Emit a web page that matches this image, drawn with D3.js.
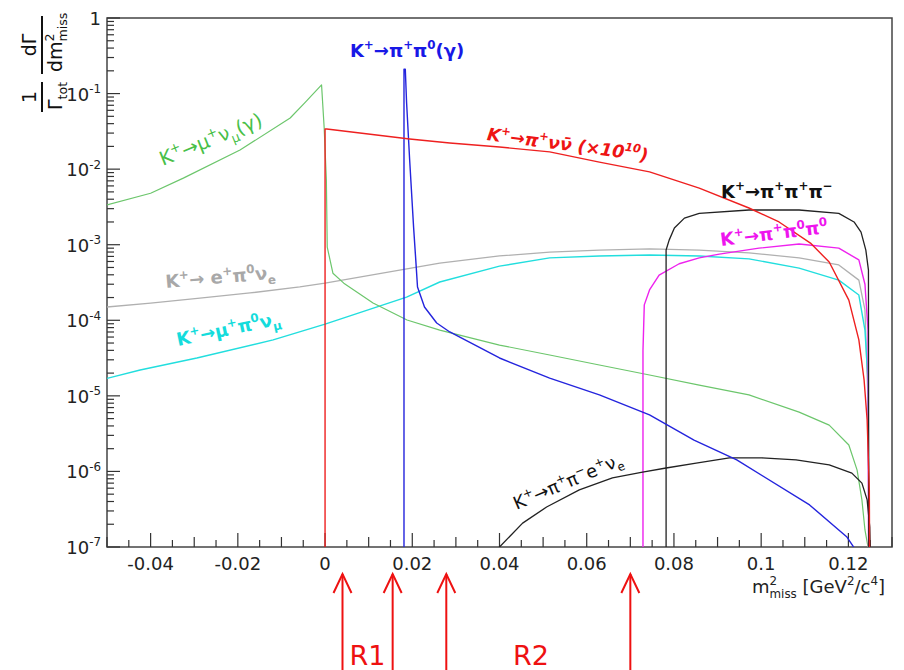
<!DOCTYPE html>
<html>
<head>
<meta charset="utf-8">
<script src="https://cdn.jsdelivr.net/npm/d3@7"></script>
<style>
  body { margin: 0; background: #fff; }
  svg { display: block; font-family: "DejaVu Sans", sans-serif; }
</style>
</head>
<body>
<svg id="chart" width="904" height="670"></svg>
<script>
// Normalised rate (1/Γ dΓ/dm²_miss) versus m²_miss [GeV²/c⁴] for the main K+ decay channels.
// Each array holds [m2miss, rate] pairs.
const kmu2 = [[-0.050,3.36e-3],[-0.040,4.8e-3],[-0.0325,7.6e-3],[-0.0195,1.79e-2],[-0.008,4.75e-2],[-0.0045,7.7e-2],
  [-0.0008,0.13],[-0.0002,0.035],[0.0003,7.2e-3],[0.0005,9.3e-4],[0.0018,4.2e-4],[0.0043,3.1e-4],[0.011,1.69e-4],
  [0.0188,1.01e-4],[0.0263,7.4e-5],[0.040,4.7e-5],[0.0515,3.47e-5],[0.0629,2.56e-5],[0.0744,1.89e-5],[0.0858,1.39e-5],
  [0.0972,1.03e-5],[0.1087,6.1e-6],[0.1156,4.1e-6],[0.1201,2.24e-6],[0.1220,1.04e-6],[0.1231,4.2e-7],[0.1238,1.68e-7],
  [0.1245,1.0e-7],[0.1248,3e-8]];
const kpinn = [[0.0,1e-9],[0.0,0.034],[0.0004,0.034],[0.0194,0.0251],[0.0286,0.0222],[0.040,0.0196],[0.0515,0.0169],
  [0.0629,0.0124],[0.0744,9.2e-3],[0.0858,5.6e-3],[0.0972,3.06e-3],[0.1041,2.0e-3],[0.1113,1.05e-3],[0.1156,5.9e-4],
  [0.1201,1.85e-4],[0.1224,5.5e-5],[0.1236,1.62e-5],[0.1243,4.8e-6],[0.1248,5.7e-7],[0.1250,1e-9]];
const kpi2 = [[0.0181,1e-9],[0.0181,0.21],[0.0184,0.21],[0.0187,0.075],[0.0194,0.0132],[0.0203,1.71e-3],[0.0208,6.3e-4],
  [0.0212,2.76e-4],[0.0228,1.5e-4],[0.0256,9.2e-5],[0.0286,7.0e-5],[0.040,3.17e-5],[0.0515,1.72e-5],[0.0629,1.03e-5],
  [0.0744,5.6e-6],[0.0846,2.6e-6],[0.0944,1.42e-6],[0.1111,3.6e-7],[0.1196,1.37e-7],[0.1230,7e-8]];
const ke3 = [[-0.050,1.50e-4],[-0.040,1.69e-4],[-0.0287,1.97e-4],[-0.0172,2.3e-4],[-0.0058,2.76e-4],[0.0,3.1e-4],
  [0.0263,5.7e-4],[0.040,7.1e-4],[0.0515,8.0e-4],[0.0629,8.5e-4],[0.0744,8.8e-4],[0.0858,8.5e-4],[0.0972,7.8e-4],
  [0.1087,6.7e-4],[0.1178,5.4e-4],[0.1224,3.4e-4],[0.1238,1.37e-4],[0.1245,8.8e-6],[0.1249,1e-9]];
const kmu3 = [[-0.050,1.7e-5],[-0.0424,2.2e-5],[-0.0294,3.17e-5],[-0.0119,5.5e-5],[0.0,8.9e-5],[0.0187,2.03e-4],
  [0.0263,3.21e-4],[0.040,5.2e-4],[0.0515,6.7e-4],[0.0629,7.1e-4],[0.0744,7.3e-4],[0.0858,7.1e-4],[0.0972,6.5e-4],
  [0.1087,4.9e-4],[0.1178,3.4e-4],[0.1224,2.16e-4],[0.1238,7.4e-5],[0.1245,1.6e-5],[0.1250,1e-9]];
const k3pi = [[0.0782,1e-9],[0.0782,8.5e-4],[0.0789,1.15e-3],[0.0801,1.66e-3],[0.0824,2.25e-3],[0.0858,2.6e-3],
  [0.0972,2.88e-3],[0.1087,2.88e-3],[0.1178,2.6e-3],[0.1213,2.0e-3],[0.1229,1.47e-3],[0.1240,8.5e-4],[0.1246,4.6e-4],
  [0.1247,1e-9]];
const k3pi0 = [[0.0729,1e-9],[0.0729,4e-5],[0.0732,1.6e-4],[0.0744,2.52e-4],[0.0766,3.97e-4],[0.0812,5.6e-4],
  [0.0858,6.7e-4],[0.0904,7.5e-4],[0.0995,9.0e-4],[0.1087,1.02e-3],[0.1178,9.0e-4],[0.1224,6.3e-4],[0.1238,3.0e-4],
  [0.1245,7.4e-5],[0.1247,1e-9]];
const ke4 = [[0.0395,5e-8],[0.0400,1e-7],[0.0453,2.07e-7],[0.0508,3.38e-7],[0.0583,5.7e-7],[0.0659,8.2e-7],
  [0.0728,9.8e-7],[0.0782,1.11e-6],[0.0851,1.29e-6],[0.0927,1.51e-6],[0.1002,1.51e-6],[0.1080,1.42e-6],
  [0.1156,1.22e-6],[0.1208,9.5e-7],[0.1231,7.0e-7],[0.1243,4.2e-7],[0.1249,1.84e-7],[0.1251,5e-8]];

// Axis ticks
const xMajorTicks = [-0.04, -0.02, 0, 0.02, 0.04, 0.06, 0.08, 0.1, 0.12];
const xTickLabels = ["-0.04", "-0.02", "0", "0.02", "0.04", "0.06", "0.08", "0.1", "0.12"];
const yDecades = [1e-7, 1e-6, 1e-5, 1e-4, 1e-3, 1e-2, 1e-1, 1];
const yTickLabels = ["10^{-7}", "10^{-6}", "10^{-5}", "10^{-4}", "10^{-3}", "10^{-2}", "10^{-1}", "1"];

// Signal-region boundaries marked below the axis
const regionCuts = [0.004, 0.0155, 0.0278, 0.0700];
const regionNames = ["R1", "R2"];
const regionCentres = [0.00975, 0.0472];

const svg = d3.select("#chart");
const plot = { left: 107, right: 892, top: 18, bottom: 547 };
const x = d3.scaleLinear().domain([-0.05, 0.13]).range([plot.left, plot.right]);
const y = d3.scaleLog().domain([1e-7, 1]).range([plot.bottom, plot.top]);

// Text with ^{} superscripts and _{} subscripts; a subscript right after a superscript stacks under it
function rich(textSel, str, size) {
  const parts = str.split(/(\^\{[^}]*\}|_\{[^}]*\})/).filter(s => s.length);
  let cur = 0, lastSup = 0, prevSup = false;
  parts.forEach(p => {
    let shift = 0, fs = size, t = p, kind = "n";
    if (p.startsWith("^{")) { shift = -0.42 * size; fs = 0.66 * size; t = p.slice(2, -1); kind = "sup"; }
    else if (p.startsWith("_{")) { shift = 0.28 * size; fs = 0.66 * size; t = p.slice(2, -1); kind = "sub"; }
    const ts = textSel.append("tspan").attr("dy", shift - cur).attr("font-size", fs).text(t);
    if (kind === "sub" && prevSup) ts.attr("dx", -lastSup);
    if (kind === "sup") lastSup = ts.node().getComputedTextLength();
    prevSup = kind === "sup";
    cur = shift;
  });
  return textSel;
}

// Frame
svg.append("rect").attr("x", plot.left).attr("y", plot.top)
  .attr("width", plot.right - plot.left).attr("height", plot.bottom - plot.top)
  .attr("fill", "none").attr("stroke", "#444").attr("stroke-width", 1.5);

// Y axis: decades plus 2..9 minor ticks
const yMinor = [];
yDecades.slice(0, -1).forEach(d => { for (let m = 2; m <= 9; m++) yMinor.push(d * m); });
svg.append("g").selectAll("line.ymin").data(yMinor).join("line")
  .attr("x1", plot.left).attr("x2", plot.left + 7)
  .attr("y1", d => y(d)).attr("y2", d => y(d)).attr("stroke", "#333").attr("stroke-width", 1.2);
svg.append("g").selectAll("line.ymaj").data(yDecades).join("line")
  .attr("x1", plot.left).attr("x2", plot.left + 13)
  .attr("y1", d => y(d)).attr("y2", d => y(d)).attr("stroke", "#333").attr("stroke-width", 1.2);
yDecades.forEach((d, i) => {
  const t = svg.append("text").attr("x", 101).attr("y", y(d) + 7)
    .attr("text-anchor", "end").attr("fill", "#222").attr("font-size", 18);
  rich(t, yTickLabels[i], 18);
});

// X axis ticks: 0.005 steps, 0.02 labelled
const xMinor = d3.range(-50, 131, 5).map(v => v / 1000);
svg.append("g").selectAll("line.xt").data(xMinor).join("line")
  .attr("x1", d => x(d)).attr("x2", d => x(d))
  .attr("y1", plot.bottom)
  .attr("y2", d => {
    const k = Math.round(d * 1000);
    return plot.bottom - (k % 20 === 0 ? 14 : (k % 10 === 0 ? 10 : 7));
  })
  .attr("stroke", "#333").attr("stroke-width", 1.2);
svg.append("g").selectAll("text.xl").data(xMajorTicks).join("text")
  .attr("x", d => x(d)).attr("y", 570).attr("text-anchor", "middle")
  .attr("font-size", 18).attr("fill", "#222")
  .text((d, i) => xTickLabels[i]);

// Axis titles
const xt = svg.append("text").attr("x", 752).attr("y", 593).attr("fill", "#222").attr("font-size", 18);
rich(xt, "m^{2}_{miss} [GeV^{2}/c^{4}]", 18);

const yt = svg.append("g").attr("transform", "translate(42,112) rotate(-90)").attr("fill", "#111");
yt.append("line").attr("x1", 0).attr("x2", 30).attr("y1", 0).attr("y2", 0).attr("stroke", "#111").attr("stroke-width", 2);
yt.append("text").attr("x", 15).attr("y", -6).attr("text-anchor", "middle").attr("font-size", 19).text("1");
rich(yt.append("text").attr("x", 2).attr("y", 20).attr("font-size", 19), "Γ_{tot}", 19);
yt.append("line").attr("x1", 38).attr("x2", 96).attr("y1", 0).attr("y2", 0).attr("stroke", "#111").attr("stroke-width", 2);
yt.append("text").attr("x", 67).attr("y", -6).attr("text-anchor", "middle").attr("font-size", 19).text("dΓ");
rich(yt.append("text").attr("x", 40).attr("y", 20).attr("font-size", 19), "dm^{2}_{miss}", 19);

// Curves, clipped to the frame
svg.append("clipPath").attr("id", "plotclip").append("rect")
  .attr("x", plot.left).attr("y", plot.top)
  .attr("width", plot.right - plot.left).attr("height", plot.bottom - plot.top);
const line = d3.line().x(d => x(d[0])).y(d => y(d[1]));
const series = [
  { data: ke3, color: "#b0b0b0", width: 1.3 },
  { data: kmu3, color: "#22dede", width: 1.4 },
  { data: kmu2, color: "#6cc66c", width: 1.2 },
  { data: k3pi0, color: "#ee22ee", width: 1.4 },
  { data: k3pi, color: "#222222", width: 1.3 },
  { data: ke4, color: "#222222", width: 1.3 },
  { data: kpi2, color: "#2424dd", width: 1.4 },
  { data: kpinn, color: "#ee2020", width: 1.4 }
];
const gCurves = svg.append("g").attr("clip-path", "url(#plotclip)");
series.forEach(s => {
  gCurves.append("path").attr("d", line(s.data)).attr("fill", "none")
    .attr("stroke", s.color).attr("stroke-width", s.width).attr("stroke-linejoin", "round");
});

// Channel labels
const labelSpecs = [
  { text: "K^{+}→μ^{+}ν_{μ}(γ)", at: [-0.0372, 0.0110], angle: -22, size: 19.5, color: "#48bf48", weight: "normal", style: "normal" },
  { text: "K^{+}→π^{+}π^{0}(γ)", at: [0.0057, 0.305], angle: 0, size: 18, color: "#1818e6", weight: "bold", style: "normal" },
  { text: "K^{+}→π^{+}νν\u0304 (×10^{10})", at: [0.0370, 0.0243], angle: 7.5, size: 17.5, color: "#ee1414", weight: "bold", style: "italic" },
  { text: "K^{+}→π^{+}π^{+}π^{\u2212}", at: [0.0908, 4.15e-3], angle: 0, size: 18, color: "#111111", weight: "bold", style: "normal" },
  { text: "K^{+}→π^{+}π^{0}π^{0}", at: [0.0908, 9.6e-4], angle: -7, size: 18, color: "#ee14ee", weight: "bold", style: "normal" },
  { text: "K^{+}→ e^{+}π^{0}ν_{e}", at: [-0.0365, 2.67e-4], angle: -5, size: 18, color: "#a8a8a8", weight: "bold", style: "normal" },
  { text: "K^{+}→μ^{+}π^{0}ν_{μ}", at: [-0.0337, 4.57e-5], angle: -12, size: 18, color: "#14dcdc", weight: "bold", style: "normal" },
  { text: "K^{+}→π^{+}π^{\u2212}e^{+}ν_{e}", at: [0.0439, 3.09e-7], angle: -23, size: 18, color: "#111111", weight: "normal", style: "normal" }
];
labelSpecs.forEach(l => {
  const t = svg.append("text")
    .attr("transform", `translate(${x(l.at[0])},${y(l.at[1])}) rotate(${l.angle})`)
    .attr("fill", l.color).attr("font-weight", l.weight).attr("font-style", l.style)
    .attr("font-size", l.size);
  rich(t, l.text, l.size);
});

// Region markers below the axis
const gReg = svg.append("g").attr("stroke", "#ee1111").attr("stroke-width", 2).attr("fill", "none");
regionCuts.forEach(c => {
  const cx = x(c);
  gReg.append("line").attr("x1", cx).attr("x2", cx).attr("y1", 574).attr("y2", 672);
  gReg.append("path").attr("d", `M${cx - 9},593 L${cx},574 L${cx + 9},593`);
});
regionNames.forEach((n, i) => {
  svg.append("text").attr("x", x(regionCentres[i])).attr("y", 665)
    .attr("text-anchor", "middle").attr("fill", "#ee1111")
    .attr("font-family", "'Comic Sans MS', 'DejaVu Sans', sans-serif").attr("font-size", 27)
    .text(n);
});
</script>
</body>
</html>
